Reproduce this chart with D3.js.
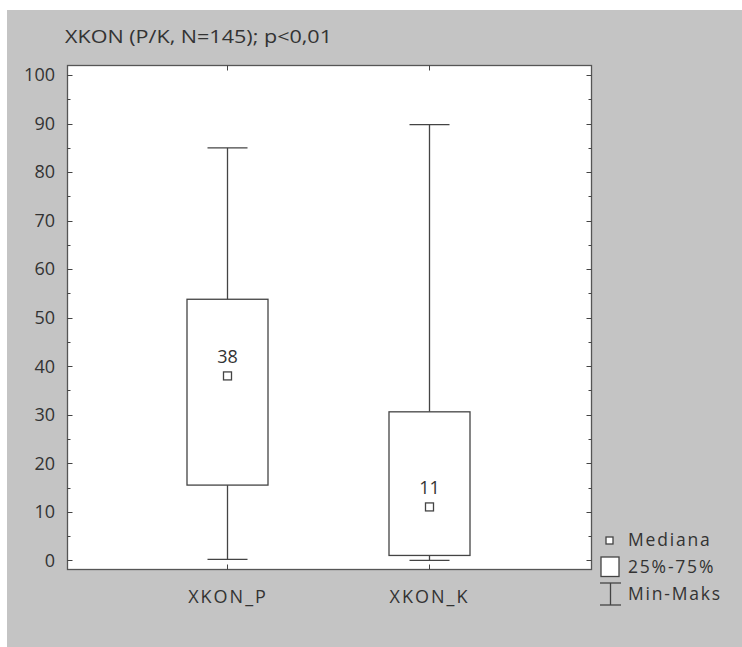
<!DOCTYPE html>
<html><head><meta charset="utf-8">
<script src="https://cdn.jsdelivr.net/npm/d3@7"></script>
<style>body{margin:0;background:#fff}svg{display:block}text{font-family:"Open Sans","Noto Sans",sans-serif;fill:#333}</style>
</head><body>
<svg id="c" width="742" height="647"></svg>
<script>
const categories = ["XKON_P", "XKON_K"];
const minVals = [0.2, 0];
const q1Vals = [15.5, 1];
const medianVals = [38, 11];
const q3Vals = [53.8, 30.6];
const maxVals = [85, 89.8];
const medianLabels = ["38", "11"];
const yTicks = [0,10,20,30,40,50,60,70,80,90,100];
const title = "XKON (P/K, N=145); p<0,01";
const legendLabels = ["Mediana", "25%-75%", "Min-Maks"];

const svg = d3.select("#c");
svg.append("rect").attr("x",7).attr("y",10).attr("width",735).attr("height",637).attr("fill","#c4c4c4");

const L=67.5, R=591.5, T=65.5, B=569.5;
const y = d3.scaleLinear().domain([0,100]).range([560.3,75.1]);
const x = d3.scalePoint().domain(categories).range([227,428.5]);

svg.append("rect").attr("x",L).attr("y",T).attr("width",R-L).attr("height",B-T)
  .attr("fill","#fff").attr("stroke","#555").attr("stroke-width",1.3);

const ink="#444";
const minor = d3.range(5,100,10);
const g = svg.append("g").attr("stroke",ink).attr("stroke-width",1);
yTicks.forEach(v=>{
  const yy=Math.round(y(v))+.5;
  g.append("line").attr("x1",L).attr("x2",L+5).attr("y1",yy).attr("y2",yy);
  g.append("line").attr("x1",R).attr("x2",R-5).attr("y1",yy).attr("y2",yy);
});
minor.forEach(v=>{
  const yy=Math.round(y(v))+.5;
  g.append("line").attr("x1",L).attr("x2",L+3).attr("y1",yy).attr("y2",yy);
  g.append("line").attr("x1",R).attr("x2",R-3).attr("y1",yy).attr("y2",yy);
});
categories.forEach(c=>{
  const cx=Math.round(x(c))+.5;
  g.append("line").attr("x1",cx).attr("x2",cx).attr("y1",B).attr("y2",B-5);
  g.append("line").attr("x1",cx).attr("x2",cx).attr("y1",T).attr("y2",T+5);
});
svg.append("g").selectAll("text").data(yTicks).join("text")
  .attr("x",55).attr("y",d=>y(d)).attr("dy","0.35em").attr("text-anchor","end")
  .attr("font-size",18).text(d=>d);

svg.append("g").selectAll("text").data(categories).join("text")
  .attr("x",d=>x(d)+1).attr("y",597).attr("dy","0.35em").attr("text-anchor","middle")
  .attr("font-size",18).attr("letter-spacing",2).text(d=>d);

svg.append("text").attr("x",65).attr("y",36.5).attr("dy","0.35em").attr("font-size",18.5)
  .attr("textLength",267).attr("lengthAdjust","spacingAndGlyphs").text(title);

const bw=81, cw=40;
categories.forEach((c,i)=>{
  const cx=Math.round(x(c))+.5;
  const bg=svg.append("g").attr("stroke",ink).attr("stroke-width",1.3).attr("fill","none");
  bg.append("line").attr("x1",cx).attr("x2",cx).attr("y1",y(maxVals[i])).attr("y2",y(q3Vals[i]));
  bg.append("line").attr("x1",cx).attr("x2",cx).attr("y1",y(q1Vals[i])).attr("y2",y(minVals[i]));
  bg.append("line").attr("x1",cx-cw/2).attr("x2",cx+cw/2).attr("y1",y(maxVals[i])).attr("y2",y(maxVals[i]));
  bg.append("line").attr("x1",cx-cw/2).attr("x2",cx+cw/2).attr("y1",y(minVals[i])).attr("y2",y(minVals[i]));
  bg.append("rect").attr("x",cx-bw/2).attr("y",y(q3Vals[i])).attr("width",bw).attr("height",y(q1Vals[i])-y(q3Vals[i])).attr("fill","#fff");
  bg.append("rect").attr("x",cx-4).attr("y",y(medianVals[i])-4).attr("width",8).attr("height",8).attr("fill","#fff");
  svg.append("text").attr("x",cx).attr("y",y(medianVals[i])-19.5).attr("dy","0.35em").attr("text-anchor","middle")
    .attr("font-size",18).text(medianLabels[i]);
});

const lg=svg.append("g").attr("stroke",ink).attr("stroke-width",1.3).attr("fill","#fff");
lg.append("rect").attr("x",606).attr("y",537).attr("width",7).attr("height",7);
lg.append("rect").attr("x",601).attr("y",557).attr("width",18).attr("height",19.5);
lg.append("line").attr("x1",600).attr("x2",621).attr("y1",583).attr("y2",583);
lg.append("line").attr("x1",600).attr("x2",621).attr("y1",605).attr("y2",605);
lg.append("line").attr("x1",610.5).attr("x2",610.5).attr("y1",583).attr("y2",605);
const ly=[539.5,567,593.5];
svg.append("g").selectAll("text").data(legendLabels).join("text")
  .attr("x",628).attr("y",(d,i)=>ly[i]).attr("dy","0.35em").attr("font-size",17.5)
  .attr("letter-spacing",1.8).text(d=>d);
</script>
</body></html>
